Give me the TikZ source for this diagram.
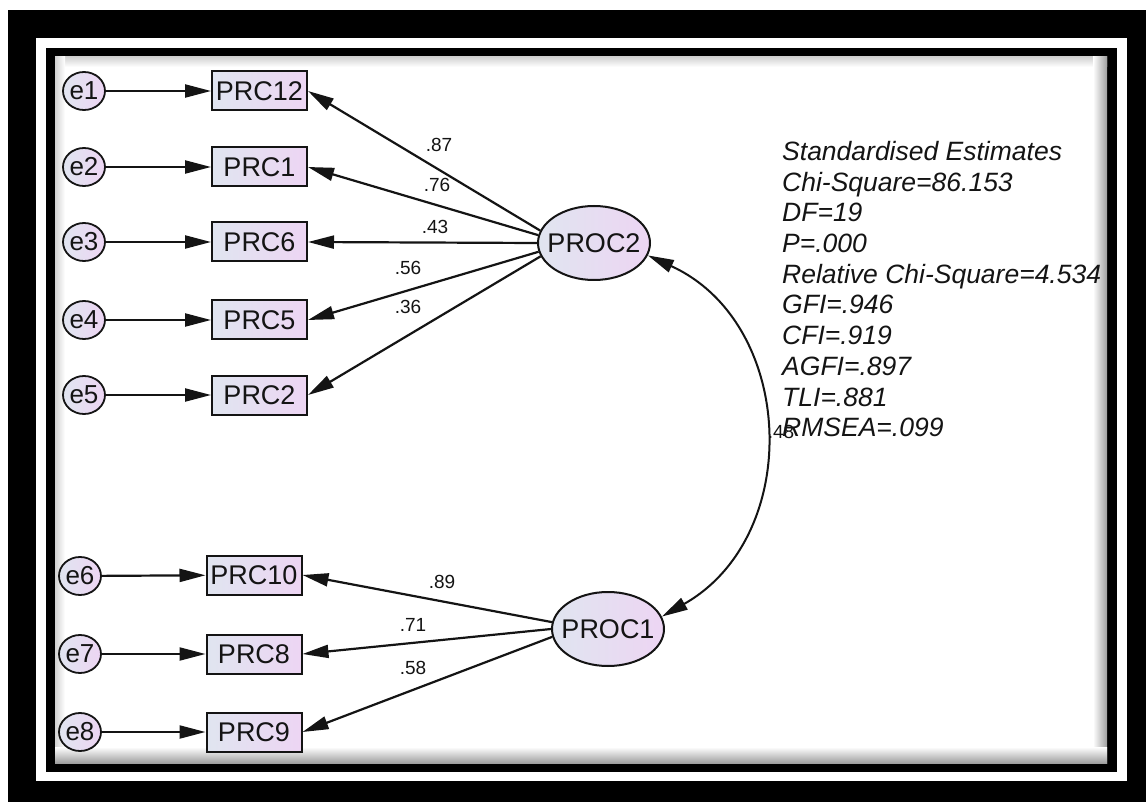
\documentclass[tikz,border=0pt]{standalone}
\usepackage{fontspec}
\setmainfont{Liberation Sans}
\usetikzlibrary{arrows.meta,shapes.geometric}
\definecolor{fillA}{RGB}{224,229,240}
\definecolor{fillB}{RGB}{237,213,243}
\definecolor{ink}{RGB}{20,20,20}
\begin{document}
\begin{tikzpicture}[x=1pt,y=-1pt,
  err/.style={ellipse, draw=ink, line width=1.8pt, minimum width=42pt, minimum height=38pt, inner sep=0pt,
    left color=fillA, right color=fillB, text=ink, font=\fontsize{26}{26}\selectfont},
  obs/.style={rectangle, draw=ink, line width=2pt, minimum width=95pt, minimum height=39pt, inner sep=0pt,
    left color=fillA, right color=fillB, text=ink, font=\fontsize{27}{27}\selectfont},
  lat/.style={ellipse, draw=ink, line width=2pt, minimum width=112pt, minimum height=74pt, inner xsep=-7pt, inner ysep=0pt,
    left color=fillA, right color=fillB, text=ink, font=\fontsize{27}{27}\selectfont},
  arr/.style={draw=ink, line width=2.2pt, -{Triangle[length=26pt,width=13pt]}},
  dblarr/.style={draw=ink, line width=2pt, {Triangle[length=26pt,width=13pt]}-{Triangle[length=26pt,width=13pt]}},
  lbl/.style={inner sep=0pt, text=ink, font=\fontsize{19}{19}\selectfont}]
\useasboundingbox (0,0) rectangle (1146,802);
% frame
\fill[black] (8,10) rectangle (1146,802);
\fill[white] (36,38) rectangle (1127,781);
\fill[black] (46,48) rectangle (1117,772);
\fill[white] (55,57) rectangle (1107,763);
\shade[top color=gray!35, bottom color=white] (55,57) rectangle (1107,67);
\shade[left color=gray!35, right color=white] (55,57) rectangle (65,763);
\shade[left color=white, right color=gray!75] (1093,57) rectangle (1107,763);
\shade[top color=white, bottom color=gray!75] (55,747) rectangle (1107,763);
% error terms
\node[err] (e1) at (84,91) {e1};
\node[err] (e2) at (84,167) {e2};
\node[err] (e3) at (84,242) {e3};
\node[err] (e4) at (84,320) {e4};
\node[err] (e5) at (84,395) {e5};
\node[err] (e6) at (80,576) {e6};
\node[err] (e7) at (80,654) {e7};
\node[err] (e8) at (80,732) {e8};
% observed
\node[obs] (PRC12) at (259.5,91) {PRC12};
\node[obs] (PRC1) at (259.5,167) {PRC1};
\node[obs] (PRC6) at (259.5,242) {PRC6};
\node[obs] (PRC5) at (259.5,320) {PRC5};
\node[obs] (PRC2) at (259.5,395) {PRC2};
\node[obs] (PRC10) at (254,575) {PRC10};
\node[obs] (PRC8) at (254,654) {PRC8};
\node[obs] (PRC9) at (254,732) {PRC9};
% latent
\node[lat] (PROC2) at (594,243) {PROC2};
\node[lat] (PROC1) at (608,629) {PROC1};
% error arrows
\foreach \e/\b in {e1/PRC12,e2/PRC1,e3/PRC6,e4/PRC5,e5/PRC2,e6/PRC10,e7/PRC8,e8/PRC9}
  \draw[arr] (\e) -- (\b);
% loadings
\draw[arr] (PROC2.167) -- (PRC12.east);
\draw[arr] (PROC2.172) -- (PRC1.east);
\draw[arr] (PROC2.west) -- (PRC6.east);
\draw[arr] (PROC2.189) -- (PRC5.east);
\draw[arr] (PROC2.194) -- (PRC2.east);
\draw[arr] (PROC1.173) -- (PRC10.east);
\draw[arr] (PROC1.west) -- (PRC8.east);
\draw[arr] (PROC1.188) -- (PRC9.east);
% covariance
\draw[dblarr] (PROC2.-13) .. controls (796,323) and (804,536) .. (PROC1.13);
% labels
\node[lbl] (l1) at (439,145) {.87};
\node[lbl] (l2) at (437,185) {.76};
\node[lbl] (l3) at (435,227) {.43};
\node[lbl] (l4) at (408,268) {.56};
\node[lbl] (l5) at (408,307) {.36};
\node[lbl] (l6) at (442,582) {.89};
\node[lbl] (l7) at (413,625) {.71};
\node[lbl] (l8) at (413,668) {.58};
\node[lbl] (l9) at (781,432) {.48};
% fit statistics
\node[anchor=north west, inner sep=0pt, align=left, text=ink,
  font=\fontsize{26.5}{30.7}\selectfont\itshape] (stats) at (782,141)
  {Standardised Estimates\\Chi-Square=86.153\\DF=19\\P=.000\\Relative Chi-Square=4.534\\GFI=.946\\CFI=.919\\AGFI=.897\\TLI=.881\\RMSEA=.099};
\end{tikzpicture}
\end{document}
